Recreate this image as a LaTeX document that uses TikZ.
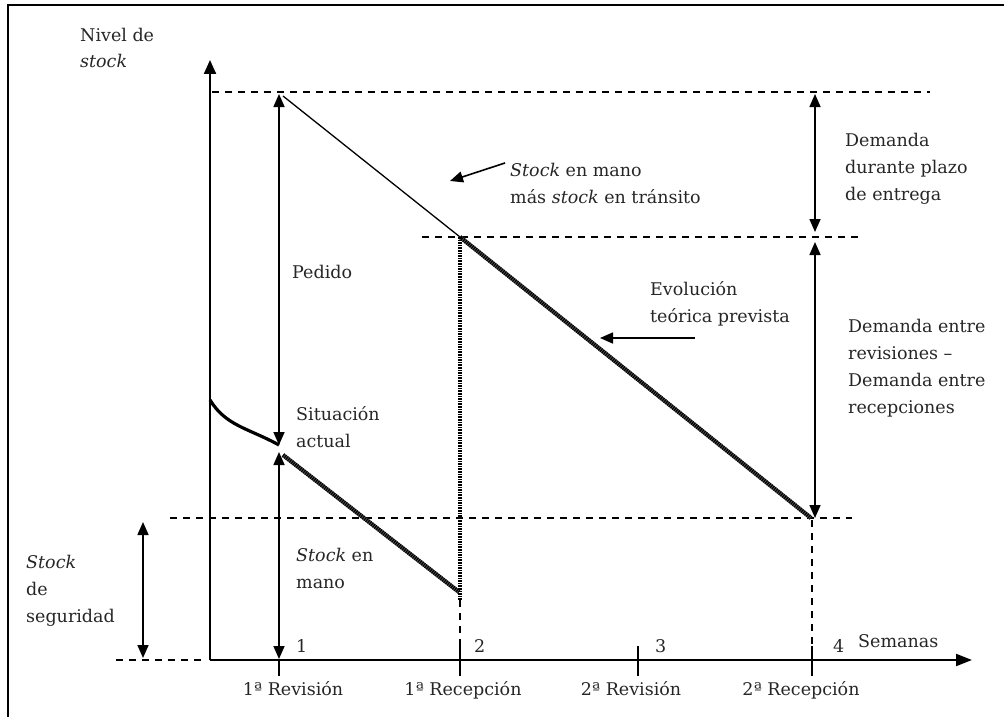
\documentclass[tikz,border=0pt]{standalone}
\usepackage{fontspec}
\setmainfont{DejaVu Serif}
\usetikzlibrary{arrows.meta}
\begin{document}
\begin{tikzpicture}[x=1pt,y=-1pt,
  txt/.style={anchor=base west,inner sep=0pt,align=left,font=\fontsize{17.5}{27}\selectfont,text=black!85},
  ctxt/.style={anchor=base,inner sep=0pt,font=\fontsize{17.5}{27}\selectfont,text=black!85},
  axisline/.style={line width=2.2pt},
  onearrow/.style={line width=1.6pt,-{Triangle[length=13pt,width=11pt]}},
  twoarrow/.style={line width=1.6pt,{Triangle[length=13pt,width=11pt]}-{Triangle[length=13pt,width=11pt]}},
  dashline/.style={line width=2.5pt,dash pattern=on 7pt off 6pt},
  hatch/.style={line width=4.2pt,black!60,postaction={draw,black,line width=4.2pt,dash pattern=on 1.3pt off 0.9pt}},
  dotv/.style={line width=3.5pt,dash pattern=on 1.6pt off 1pt},
  tick/.style={line width=2.2pt}]
\useasboundingbox (0,0) rectangle (1004,717);
% frame
\draw[line width=2pt] (8,730) -- (8,5) -- (1010,5);
% coordinates
\coordinate (O) at (210,660);
\coordinate (Ytop) at (210,60);
\coordinate (Xend) at (972,660);
\coordinate (R1top) at (279,94);
\coordinate (R1cur) at (279,445);
\coordinate (R1cur2) at (279,452);
\coordinate (R1ax) at (279,659);
\coordinate (L0) at (283,96);
\coordinate (P1top) at (460,237);
\coordinate (P1low) at (459,592);
\coordinate (P2) at (811,518);
\coordinate (S0) at (283,455);
\coordinate (C0) at (210,400);
% axes
\draw[axisline,-{Triangle[length=14pt,width=12pt]}] (O) -- (Ytop);
\draw[axisline,-{Triangle[length=16pt,width=12pt]}] (O) -- (Xend);
% dashed levels
\draw[dashline] (212,92) coordinate (L1a) -- (930,92) coordinate (L1b);
\draw[dashline] (422,237) coordinate (L2a) -- (862,237) coordinate (L2b);
\draw[dashline] (170,518) coordinate (L3a) -- (852,518) coordinate (L3b);
\draw[dashline] (116,660) coordinate (L4a) -- (206,660) coordinate (L4b);
\draw[dashline] (812,520) -- (812,646) coordinate (T4a);
\draw[dashline] (460,600) -- (460,646) coordinate (T2a);
% ticks
\draw[tick] (279,659) -- (279,676);
\draw[tick] (460,646) -- (460,676);
\draw[tick] (638,646) coordinate (T3a) -- (638,676);
\draw[tick] (812,646) -- (812,676);
% curves
\draw[line width=3.2pt] (C0) .. controls (226,426) and (248,428) .. (R1cur);
\draw[line width=1.3pt] (L0) -- (P1top);
\draw[hatch] (P1top) -- (P2);
\draw[hatch] (S0) -- (P1low);
\draw[dotv] (P1top) -- (460,600);
% revision arrows
\draw[twoarrow] (R1cur) -- (R1top);
\draw[twoarrow] (R1cur2) -- (R1ax);
% right arrows
\draw[twoarrow] (815,94) coordinate (D1a) -- (815,232) coordinate (D1b);
\draw[twoarrow] (815,242) coordinate (D2a) -- (815,518) coordinate (D2b);
% safety stock arrow
\draw[twoarrow] (143,522) coordinate (SSa) -- (143,658) coordinate (SSb);
% pointer arrows
\draw[onearrow] (505,163) coordinate (PA1) -- (450,181) coordinate (PA1b);
\draw[onearrow] (695,338) coordinate (PA2) -- (600,338) coordinate (PA2b);
% labels (base = baseline of last line)
\node[txt] (nivel) at (80,68) {Nivel de\\\textit{stock}};
\node[txt] (pedido) at (292,278) {Pedido};
\node[txt] (situ) at (296,447) {Situación\\actual};
\node[txt] (enmano) at (296,588) {\textit{Stock} en\\mano};
\node[txt] (seg) at (26,622) {\textit{Stock}\\de\\seguridad};
\node[txt] (trans) at (510,203) {\textit{Stock} en mano\\más \textit{stock} en tránsito};
\node[txt] (evol) at (650,322) {Evolución\\teórica prevista};
\node[txt] (dplazo) at (845,200) {Demanda\\durante plazo\\de entrega};
\node[txt] (drev) at (848,413) {Demanda entre\\revisiones --\\Demanda entre\\recepciones};
\node[txt] (sem) at (858,647) {Semanas};
\node[txt] (n1) at (296,652) {1};
\node[txt] (n2) at (474,652) {2};
\node[txt] (n3) at (655,652) {3};
\node[txt] (n4) at (833,652) {4};
\node[ctxt] (rev1) at (293,695) {1ª Revisión};
\node[ctxt] (rec1) at (463,695) {1ª Recepción};
\node[ctxt] (rev2) at (631,695) {2ª Revisión};
\node[ctxt] (rec2) at (801,695) {2ª Recepción};
\end{tikzpicture}
\end{document}
